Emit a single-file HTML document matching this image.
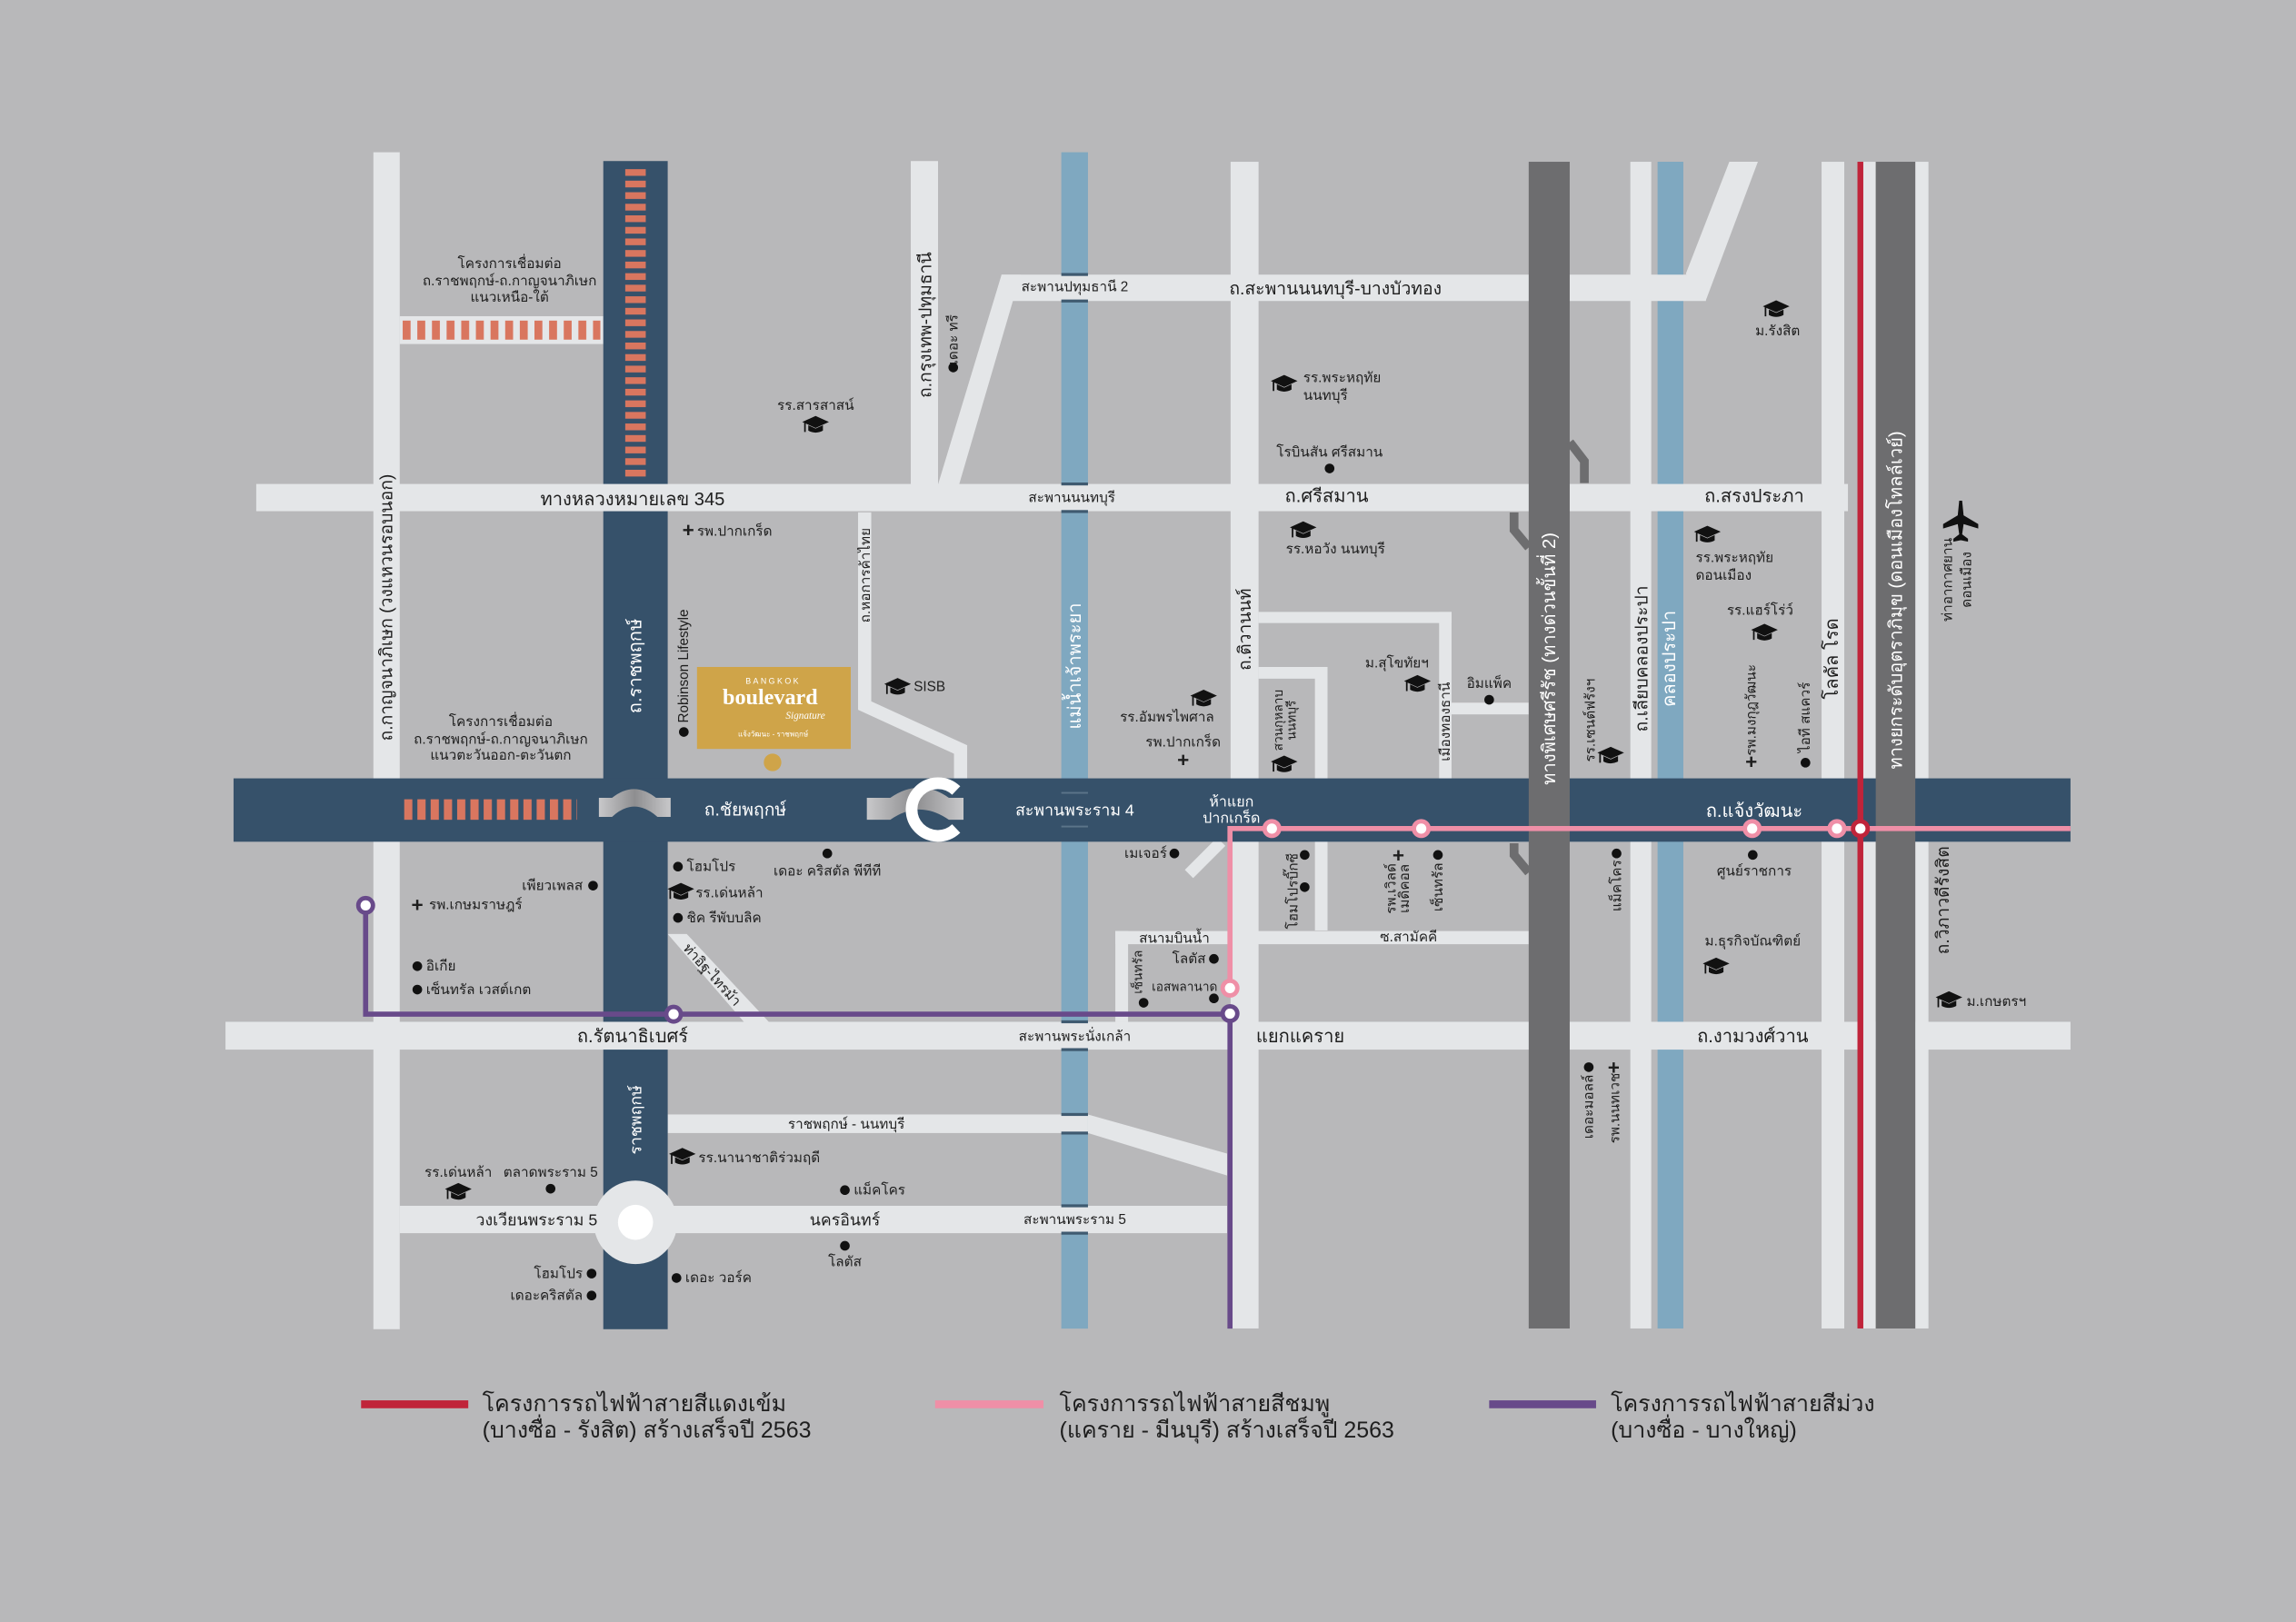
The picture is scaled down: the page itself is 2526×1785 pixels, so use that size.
<!DOCTYPE html>
<html><head><meta charset="utf-8"><style>
html,body{margin:0;padding:0;background:#b8b8ba;}
svg{display:block;}
text{font-family:"Liberation Sans","DejaVu Sans","Noto Sans CJK SC",sans-serif;}
.t{font-size:9.5px;fill:#1e1e1e;}
.r{font-size:12.5px;fill:#1e1e1e;}
.w{font-size:11px;fill:#ffffff;}
.wb{font-size:12.5px;fill:#ffffff;}
.lg{font-size:15.5px;fill:#1e1e1e;}
</style></head><body>
<svg width="2526" height="1785" viewBox="0 0 1568 1108" xmlns="http://www.w3.org/2000/svg">
<defs>
<pattern id="dv" x="427" y="115.5" width="14" height="7.9" patternUnits="userSpaceOnUse"><rect x="0" y="0" width="14" height="4.6" fill="#d9765f"/></pattern>
<pattern id="dh" x="275" y="219" width="10" height="13" patternUnits="userSpaceOnUse"><rect x="0" y="0" width="5.4" height="13" fill="#d9765f"/></pattern>
<pattern id="dh2" x="276" y="546" width="9.05" height="14" patternUnits="userSpaceOnUse"><rect x="0" y="0" width="5.6" height="14" fill="#d9765f"/></pattern>
<linearGradient id="gb" x1="0" x2="1"><stop offset="0" stop-color="#c8c8ca"/><stop offset="0.5" stop-color="#8e8e90"/><stop offset="1" stop-color="#c8c8ca"/></linearGradient>
<symbol id="cap" viewBox="-11 -8 22 16"><polygon points="0,-7 10,-2.5 0,2 -10,-2.5" fill="#111"/><path d="M-5.5,0 L-5.5,4 Q0,7 5.5,4 L5.5,0 L0,2.5 Z" fill="#111"/><path d="M-8,-2 L-8,5" stroke="#111" stroke-width="1.2"/></symbol>
</defs>
<rect width="1568" height="1108" fill="#b8b8ba"/>

<rect x="724.8" y="104" width="18.2" height="803.6" fill="#7fa8c0"/>
<rect x="1132" y="110.5" width="17.6" height="797" fill="#7fa8c0"/>

<g fill="#e4e6e8">
<rect x="255" y="104" width="18" height="804"/>
<rect x="273" y="216" width="139" height="19"/>
<rect x="622" y="110" width="18.6" height="221"/>
<polygon points="640.6,331 655,331 697,187.6 684,187.6"/>
<rect x="684" y="187.6" width="481" height="18"/>
<polygon points="1151.3,187 1164.8,205.6 1200.5,110.5 1181,110.5"/>
<rect x="840.4" y="110.5" width="19.1" height="797"/>
<rect x="859.5" y="418" width="131.8" height="7.6"/>
<rect x="982.8" y="418" width="8.5" height="114"/>
<rect x="859.5" y="455.6" width="47" height="8"/>
<rect x="898" y="455.6" width="8.6" height="180"/>
<rect x="991" y="480" width="53" height="8"/>
<rect x="761.7" y="636" width="282.3" height="9"/>
<rect x="761.7" y="636" width="8.7" height="62"/>
<rect x="1113.4" y="110.5" width="14.3" height="797"/>
<rect x="1244" y="110.5" width="15.5" height="797"/>
<rect x="1272" y="110.5" width="9" height="797"/>
<rect x="1308" y="110.5" width="9" height="797"/>
<rect x="456" y="761.3" width="287" height="12.7"/>
<polygon points="743,761.3 838,788 838,803 743,774"/>
<rect x="273" y="823.7" width="565" height="18.7"/>
<polygon points="456,638 469,638 525,698 508,698"/>
</g>
<polyline points="590.5,350 590.5,482 656,512 656,533" fill="none" stroke="#e4e6e8" stroke-width="9"/>
<line x1="834" y1="575" x2="812" y2="597" stroke="#e4e6e8" stroke-width="8"/>

<rect x="412" y="110" width="44" height="798" fill="#36516a"/>
<rect x="159.5" y="531.7" width="1254.5" height="43.3" fill="#36516a"/>

<g fill="#e4e6e8">
<rect x="175" y="330.6" width="1087" height="18.6"/>
<rect x="154" y="698" width="1260" height="19"/>
<circle cx="434" cy="835" r="28.5"/>
</g>
<circle cx="434" cy="835" r="12" fill="#ffffff"/>

<g fill="#3f5a70">
<rect x="724.8" y="186.5" width="18.2" height="2"/><rect x="724.8" y="204.6" width="18.2" height="2"/>
<rect x="724.8" y="329.6" width="18.2" height="2"/><rect x="724.8" y="348.4" width="18.2" height="2"/>
<rect x="724.8" y="697" width="18.2" height="2"/><rect x="724.8" y="716" width="18.2" height="2"/>
<rect x="724.8" y="760.3" width="18.2" height="2"/><rect x="724.8" y="773" width="18.2" height="2"/>
<rect x="724.8" y="822.7" width="18.2" height="2"/><rect x="724.8" y="841.4" width="18.2" height="2"/>
</g>
<rect x="724.8" y="541" width="18.2" height="1.2" fill="#5b7489"/><rect x="724.8" y="564" width="18.2" height="1.2" fill="#5b7489"/>

<rect x="427" y="115.5" width="14" height="212" fill="url(#dv)"/>
<rect x="275" y="219" width="135" height="13" fill="url(#dh)"/>
<rect x="276" y="546" width="118" height="14" fill="url(#dh2)"/>

<path d="M409,558 L409,545 L418,545 Q433,533 448,545 L458,545 L458,558 L449,558 Q433,544 418,558 Z" fill="url(#gb)"/>
<path d="M592,560 L592,545 L608,545 Q628,531 648,545 L658,545 L658,560 L648,560 Q628,546 608,560 Z" fill="url(#gb)"/>
<path d="M653,540 A18,18 0 1 0 653,566" fill="none" stroke="#ffffff" stroke-width="8"/>

<rect x="1044" y="110.5" width="28" height="797" fill="#6d6d6f"/>
<rect x="1281" y="110.5" width="27" height="797" fill="#6d6d6f"/>
<polyline points="1072,302 1082,315 1082,330" fill="none" stroke="#6d6d6f" stroke-width="6"/>
<polyline points="1034,350 1034,362 1044,374" fill="none" stroke="#6d6d6f" stroke-width="6"/>
<polyline points="1034,576 1034,584 1044,596" fill="none" stroke="#6d6d6f" stroke-width="6"/>

<rect x="1268.5" y="110.5" width="4" height="797" fill="#c0243a"/>
<path d="M840,675 L840,566 L1414,566" fill="none" stroke="#ef8fa7" stroke-width="3.5"/>
<path d="M249.7,618.5 L249.7,692.8 L840,692.8 L840,907.6" fill="none" stroke="#684a8a" stroke-width="3.5"/>
<g fill="#fff" stroke-width="3">
<circle cx="868.6" cy="566" r="5" stroke="#ef8fa7"/>
<circle cx="970.6" cy="566" r="5" stroke="#ef8fa7"/>
<circle cx="1196.6" cy="566" r="5" stroke="#ef8fa7"/>
<circle cx="1254.5" cy="566" r="5" stroke="#ef8fa7"/>
<circle cx="840" cy="675" r="5" stroke="#ef8fa7"/>
<circle cx="1270.5" cy="566" r="5" stroke="#c0243a"/>
<circle cx="249.7" cy="618.5" r="5" stroke="#684a8a"/>
<circle cx="460" cy="692.8" r="5" stroke="#684a8a"/>
<circle cx="840" cy="692.4" r="5" stroke="#684a8a"/>
</g>

<rect x="476" y="455.6" width="105" height="56" fill="#cfa449"/>
<text x="528" y="467" text-anchor="middle" style="font-size:5.5px;fill:#fff;letter-spacing:1.5px">BANGKOK</text>
<text x="526" y="481" text-anchor="middle" style="font-family:'Liberation Serif',serif;font-size:15px;font-weight:bold;fill:#fff">boulevard</text>
<text x="550" y="491" text-anchor="middle" style="font-family:'Liberation Serif',serif;font-size:7px;font-style:italic;fill:#fff">Signature</text>
<text x="528" y="503" text-anchor="middle" style="font-size:5px;fill:#fff">แจ้งวัฒนะ - ราชพฤกษ์</text>
<circle cx="527.6" cy="520.8" r="6" fill="#cfa449"/>

<path d="M1338,342 L1340,342 L1341,352 L1351,358 L1351,361 L1341,358 L1340,365 L1344,368 L1344,370 L1339,369 L1334,370 L1334,368 L1338,365 L1337,358 L1327,361 L1327,358 L1337,352 Z" fill="#111"/>

<g>
<use href="#cap" x="547" y="283" width="20" height="15"/>
<use href="#cap" x="867" y="255" width="20" height="15"/>
<use href="#cap" x="880" y="355" width="20" height="15"/>
<use href="#cap" x="1203" y="204" width="20" height="15"/>
<use href="#cap" x="1156" y="358" width="20" height="15"/>
<use href="#cap" x="1195" y="425" width="20" height="15"/>
<use href="#cap" x="603" y="462" width="20" height="15"/>
<use href="#cap" x="812" y="470" width="20" height="15"/>
<use href="#cap" x="867" y="515" width="20" height="15"/>
<use href="#cap" x="958" y="460" width="20" height="15"/>
<use href="#cap" x="1090" y="509" width="20" height="15"/>
<use href="#cap" x="455" y="602" width="20" height="15"/>
<use href="#cap" x="1162" y="653" width="20" height="15"/>
<use href="#cap" x="1321" y="676" width="20" height="15"/>
<use href="#cap" x="456" y="783" width="20" height="15"/>
<use href="#cap" x="303" y="807" width="20" height="15"/>
</g>
<g fill="#111">
<circle cx="651" cy="251" r="3.3"/><circle cx="908" cy="320" r="3.3"/><circle cx="467" cy="500" r="3.3"/>
<circle cx="1017" cy="478" r="3.3"/><circle cx="1233" cy="521" r="3.3"/><circle cx="802" cy="583" r="3.3"/>
<circle cx="891" cy="584" r="3.3"/><circle cx="891" cy="606" r="3.3"/><circle cx="982" cy="584" r="3.3"/>
<circle cx="1104" cy="583" r="3.3"/><circle cx="1197" cy="584" r="3.3"/><circle cx="829" cy="655" r="3.3"/>
<circle cx="781" cy="685" r="3.3"/><circle cx="829" cy="682" r="3.3"/><circle cx="1085" cy="729" r="3.3"/>
<circle cx="463" cy="592" r="3.3"/><circle cx="565" cy="583" r="3.3"/><circle cx="405" cy="605" r="3.3"/>
<circle cx="463" cy="627" r="3.3"/><circle cx="285" cy="660" r="3.3"/><circle cx="285" cy="676" r="3.3"/>
<circle cx="376" cy="812" r="3.3"/><circle cx="577" cy="813" r="3.3"/><circle cx="577" cy="851" r="3.3"/>
<circle cx="404" cy="870" r="3.3"/><circle cx="404" cy="885" r="3.3"/><circle cx="462" cy="873" r="3.3"/>
</g>
<g class="r" style="font-size:14px;font-weight:bold">
<text x="470" y="367" text-anchor="middle">+</text>
<text x="808" y="524" text-anchor="middle">+</text>
<text x="1196" y="525" text-anchor="middle">+</text>
<text x="955" y="589" text-anchor="middle">+</text>
<text x="1102" y="734" text-anchor="middle">+</text>
<text x="285" y="623" text-anchor="middle">+</text>
</g>

<g class="t" text-anchor="middle">
<text x="348" y="183">โครงการเชื่อมต่อ</text>
<text x="348" y="195">ถ.ราชพฤกษ์-ถ.กาญจนาภิเษก</text>
<text x="348" y="206">แนวเหนือ-ใต้</text>
<text x="557" y="280">รร.สารสาสน์</text>
<text x="734" y="199">สะพานปทุมธานี 2</text>
<text x="732" y="343">สะพานนนทบุรี</text>
<text x="908" y="312">โรบินสัน ศรีสมาน</text>
<text x="912" y="378">รร.หอวัง นนทบุรี</text>
<text x="1214" y="229">ม.รังสิต</text>
<text x="1202" y="420">รร.แฮร์โร่ว์</text>
<text x="342" y="496">โครงการเชื่อมต่อ</text>
<text x="342" y="508">ถ.ราชพฤกษ์-ถ.กาญจนาภิเษก</text>
<text x="342" y="519">แนวตะวันออก-ตะวันตก</text>
<text x="797" y="493">รร.อัมพรไพศาล</text>
<text x="808" y="510">รพ.ปากเกร็ด</text>
<text x="954" y="456">ม.สุโขทัยฯ</text>
<text x="1017" y="470">อิมแพ็ค</text>
<text x="1198" y="598">ศูนย์ราชการ</text>
<text x="1197" y="646">ม.ธุรกิจบัณฑิตย์</text>
<text x="962" y="643">ซ.สามัคคี</text>
<text x="802" y="644">สนามบินน้ำ</text>
<text x="812" y="658">โลตัส</text>
<text x="809" y="677" style="font-size:8.5px">เอสพลานาด</text>
<text x="734" y="711">สะพานพระนั่งเกล้า</text>
<text x="565" y="598">เดอะ คริสตัล พีทีที</text>
<text x="578" y="771">ราชพฤกษ์ - นนทบุรี</text>
<text x="313" y="804">รร.เด่นหล้า</text>
<text x="376" y="804">ตลาดพระราม 5</text>
<text x="577" y="865">โลตัส</text>
<text x="734" y="836">สะพานพระราม 5</text>
</g>
<g class="t">
<text x="890" y="261">รร.พระหฤทัย</text>
<text x="890" y="273">นนทบุรี</text>
<text x="1158" y="384">รร.พระหฤทัย</text>
<text x="1158" y="396">ดอนเมือง</text>
<text x="476" y="366">รพ.ปากเกร็ด</text>
<text x="624" y="472">SISB</text>
<text x="469" y="595">โฮมโปร</text>
<text x="475" y="613">รร.เด่นหล้า</text>
<text x="469" y="630">ชิค รีพับบลิค</text>
<text x="293" y="621">รพ.เกษมราษฎร์</text>
<text x="291" y="663">อิเกีย</text>
<text x="291" y="679">เซ็นทรัล เวสต์เกต</text>
<text x="1343" y="687">ม.เกษตรฯ</text>
<text x="477" y="794">รร.นานาชาติร่วมฤดี</text>
<text x="583" y="816">แม็คโคร</text>
<text x="468" y="876">เดอะ วอร์ค</text>
</g>
<g class="t" text-anchor="end">
<text x="398" y="608">เพียวเพลส</text>
<text x="797" y="586">เมเจอร์</text>
<text x="398" y="873">โฮมโปร</text>
<text x="398" y="888">เดอะคริสตัล</text>
<text x="408" y="837" class="r" style="font-size:11px">วงเวียนพระราม 5</text>
</g>
<g class="r" text-anchor="middle">
<text x="432" y="345">ทางหลวงหมายเลข 345</text>
<text x="912" y="201" style="font-size:12px">ถ.สะพานนนทบุรี-บางบัวทอง</text>
<text x="906" y="343">ถ.ศรีสมาน</text>
<text x="1198" y="343">ถ.สรงประภา</text>
<text x="888" y="712">แยกแคราย</text>
<text x="1197" y="712">ถ.งามวงศ์วาน</text>
<text x="432" y="712">ถ.รัตนาธิเบศร์</text>
<text x="577" y="837" style="font-size:11px">นครอินทร์</text>
</g>
<g text-anchor="middle">
<text x="509" y="557" class="w" style="font-size:12px">ถ.ชัยพฤกษ์</text>
<text x="734" y="557" class="w">สะพานพระราม 4</text>
<text x="1198" y="558" class="wb">ถ.แจ้งวัฒนะ</text>
<text x="841" y="551" class="w" style="font-size:10px">ห้าแยก</text>
<text x="841" y="562" class="w" style="font-size:10px">ปากเกร็ด</text>
<text transform="translate(484,668) rotate(48)" class="t">ท่าอิฐ-ไทรม้า</text>
</g>

<g text-anchor="middle">
<text transform="translate(636,222) rotate(-90)" class="r" style="font-size:12px">ถ.กรุงเทพ-ปทุมธานี</text>
<text transform="translate(654,232) rotate(-90)" class="t">เดอะ ทรี</text>
<text transform="translate(1333,396) rotate(-90)" class="t">ท่าอากาศยาน</text>
<text transform="translate(1346,396) rotate(-90)" class="t">ดอนเมือง</text>
<text transform="translate(594,393) rotate(-90)" class="t">ถ.หอการค้าไทย</text>
<text transform="translate(470,455) rotate(-90)" class="t">Robinson Lifestyle</text>
<text transform="translate(438,455) rotate(-90)" class="wb">ถ.ราชพฤกษ์</text>
<text transform="translate(268,415) rotate(-90)" class="r" style="font-size:12px">ถ.กาญจนาภิเษก (วงแหวนรอบนอก)</text>
<text transform="translate(738,455) rotate(-90)" class="wb">แม่น้ำเจ้าพระยา</text>
<text transform="translate(854,430) rotate(-90)" class="r" style="font-size:12px">ถ.ติวานนท์</text>
<text transform="translate(876,492) rotate(-90)" class="t" style="font-size:8.5px">สวนกุหลาบ</text>
<text transform="translate(885,492) rotate(-90)" class="t" style="font-size:8.5px">นนทบุรี</text>
<text transform="translate(990,493) rotate(-90)" class="t">เมืองทองธานี</text>
<text transform="translate(1062,450) rotate(-90)" class="wb">ทางพิเศษศรีรัช (ทางด่วนขั้นที่ 2)</text>
<text transform="translate(1089,492) rotate(-90)" class="t">รร.เซนต์ฟรังฯ</text>
<text transform="translate(1125,450) rotate(-90)" class="r" style="font-size:12px">ถ.เลียบคลองประปา</text>
<text transform="translate(1144,450) rotate(-90)" class="wb">คลองประปา</text>
<text transform="translate(1199,485) rotate(-90)" class="t">รพ.มงกุฎวัฒนะ</text>
<text transform="translate(1236,490) rotate(-90)" class="t">ไอที สแควร์</text>
<text transform="translate(1255,450) rotate(-90)" class="r">โลคัล โรด</text>
<text transform="translate(1299,410) rotate(-90)" class="wb">ทางยกระดับอุตราภิมุข (ดอนเมืองโทลล์เวย์)</text>
<text transform="translate(886,592) rotate(-90)" class="t">บิ๊กซี</text>
<text transform="translate(886,618) rotate(-90)" class="t">โฮมโปร</text>
<text transform="translate(953,607) rotate(-90)" class="t">รพ.เวิลด์</text>
<text transform="translate(962,607) rotate(-90)" class="t">เมดิคอล</text>
<text transform="translate(985,606) rotate(-90)" class="t">เซ็นทรัล</text>
<text transform="translate(1107,605) rotate(-90)" class="t">แม็คโคร</text>
<text transform="translate(1331,615) rotate(-90)" class="r" style="font-size:12px">ถ.วิภาวดีรังสิต</text>
<text transform="translate(780,664) rotate(-90)" class="t" style="font-size:8.5px">เซ็นทรัล</text>
<text transform="translate(1088,756) rotate(-90)" class="t">เดอะมอลล์</text>
<text transform="translate(1106,757) rotate(-90)" class="t">รพ.นนทเวช</text>
<text transform="translate(438,765) rotate(-90)" class="w">ราชพฤกษ์</text>
</g>

<rect x="246.6" y="956.6" width="73.2" height="5.4" fill="#c0243a"/>
<rect x="638.6" y="956.6" width="74" height="5.4" fill="#ef8fa7"/>
<rect x="1017" y="956.6" width="73" height="5.4" fill="#684a8a"/>
<g class="lg">
<text x="329.4" y="964">โครงการรถไฟฟ้าสายสีแดงเข้ม</text>
<text x="329.4" y="982">(บางซื่อ - รังสิต) สร้างเสร็จปี 2563</text>
<text x="723.5" y="964">โครงการรถไฟฟ้าสายสีชมพู</text>
<text x="723.5" y="982">(แคราย - มีนบุรี) สร้างเสร็จปี 2563</text>
<text x="1100" y="964">โครงการรถไฟฟ้าสายสีม่วง</text>
<text x="1100" y="982">(บางซื่อ - บางใหญ่)</text>
</g>
</svg>
</body></html>
